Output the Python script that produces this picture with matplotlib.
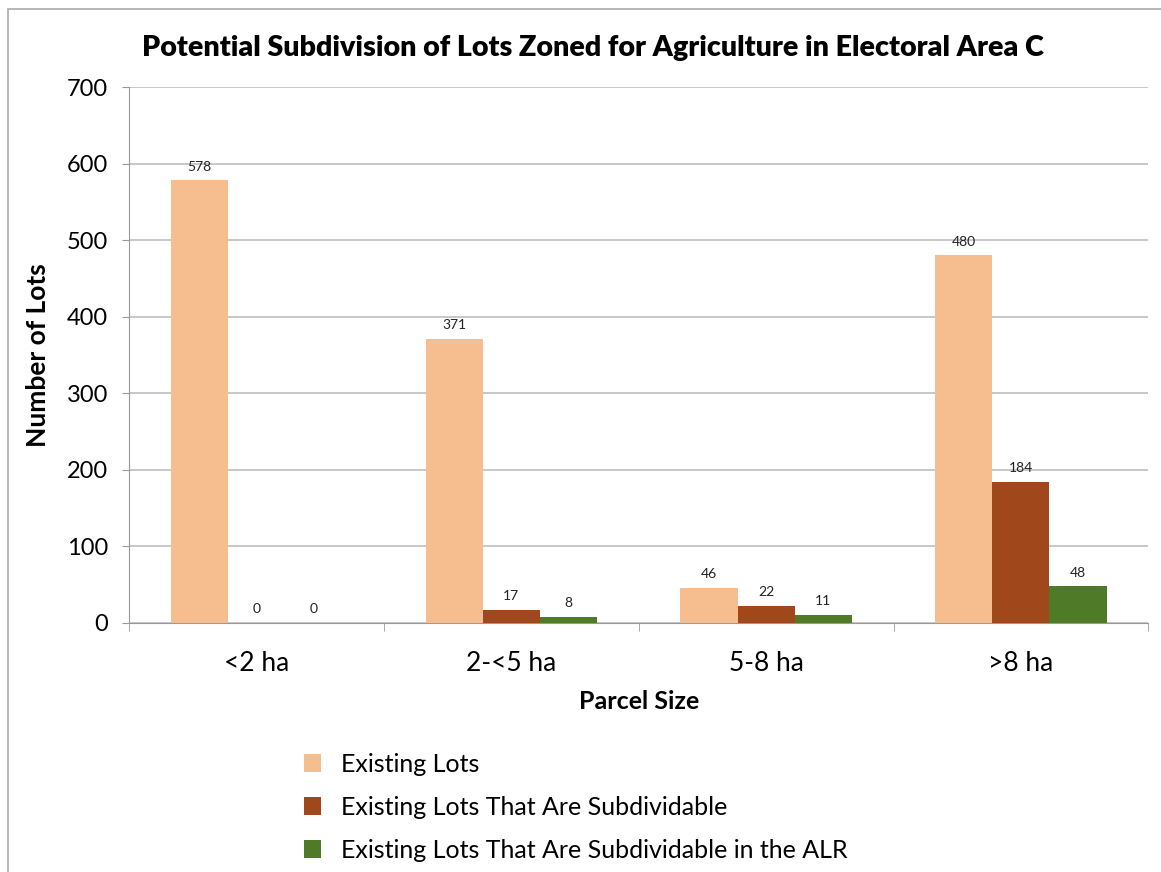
import matplotlib.pyplot as plt
from matplotlib.patches import Rectangle
import numpy as np

# chart data
categories = ["<2 ha", "2-<5 ha", "5-8 ha", ">8 ha"]
existing = [578, 371, 46, 480]
subdividable = [0, 17, 22, 184]
subdividable_alr = [0, 8, 11, 48]
series_names = ["Existing Lots",
                "Existing Lots That Are Subdividable",
                "Existing Lots That Are Subdividable in the ALR"]
colors = ["#F6BD8E", "#A0471B", "#4F7A28"]

plt.rcParams['font.family'] = ['Lato', 'DejaVu Sans']

fig = plt.figure(figsize=(11.61, 8.72), dpi=100)
ax = fig.add_axes([0.1111, 0.2856, 0.878, 0.6146])

x = np.arange(len(categories))
w = 0.224
series = [existing, subdividable, subdividable_alr]
for i, (vals, name, c) in enumerate(zip(series, series_names, colors)):
    bars = ax.bar(x + (i - 1) * w, vals, width=w, color=c, label=name, zorder=3)
    for b, v in zip(bars, vals):
        ax.text(b.get_x() + b.get_width() / 2, v + 10, str(v),
                ha="center", va="bottom", fontsize=10, color="#222222", zorder=4)

ax.set_xlim(-0.5, 3.5)
ax.set_ylim(0, 700)
ax.set_yticks(range(0, 701, 100))
ax.set_xticks(x)
ax.set_xticklabels(categories, fontsize=19)
ax.tick_params(axis="x", length=0, pad=20)
ax.set_xticks(np.arange(-0.5, 3.6, 1), minor=True)
ax.tick_params(axis="x", which="minor", length=6, color="#999999")
ax.tick_params(axis="y", labelsize=17, length=5, color="#999999", pad=10)
ax.yaxis.grid(True, color="#BFBFBF", linewidth=1.2, zorder=0)

for s in ["top", "right"]:
    ax.spines[s].set_visible(False)
for s in ["left", "bottom"]:
    ax.spines[s].set_color("#999999")

ax.set_title("Potential Subdivision of Lots Zoned for Agriculture in Electoral Area C",
             fontsize=20.6, fontweight="heavy", pad=22, x=0.455)
ax.set_ylabel("Number of Lots", fontsize=19, fontweight="bold", labelpad=12)
ax.set_xlabel("Parcel Size", fontsize=18, fontweight="bold", labelpad=10)

fig.legend(loc="upper left", bbox_to_anchor=(0.253, 0.148), ncol=1,
           frameon=False, fontsize=18, handlelength=0.7, handleheight=0.7,
           handletextpad=0.8, labelspacing=0.8, borderaxespad=0)

fig.patches.append(Rectangle((0.007, -0.01), 1.0, 1.0, transform=fig.transFigure,
                             fill=False, edgecolor="#AAAAAA", linewidth=1.2))

fig.savefig("out.png", dpi=100)
